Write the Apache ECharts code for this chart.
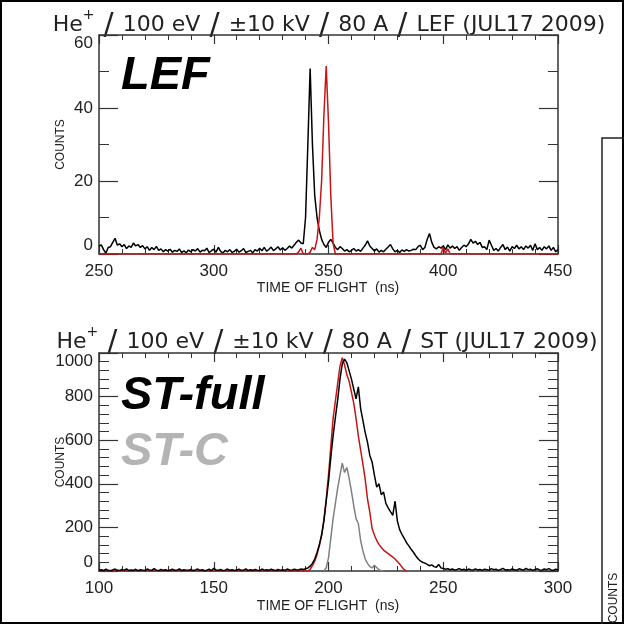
<!DOCTYPE html>
<html><head><meta charset="utf-8">
<script src="https://cdn.jsdelivr.net/npm/echarts@6/dist/echarts.min.js"></script>
<style>html,body{margin:0;padding:0;background:#fff}#c{width:624px;height:624px}</style>
</head><body><div id="c"></div>
<script>
// ---------- DATA ----------
// Top panel (LEF): time of flight axis ticks and counts ticks
const lefXTicks = [250, 300, 350, 400, 450];
const lefYTicks = [0, 20, 40, 60];
// Black LEF curve: one value per ns, starting at 250 ns
const lefBlackStart = 250;
const lefBlack = [
  2.2, 2.5, 1.2, 0.2, 1.8, 2.0, 3.2, 4.3, 2.4, 2.8,
  2.0, 2.6, 1.5, 2.2, 1.8, 3.0, 2.2, 2.6, 1.8, 2.3,
  1.4, 2.0, 1.0, 1.8, 1.2, 2.1, 1.0, 1.4, 0.6, 1.2,
  0.8, 1.3, 0.5, 1.0, 0.7, 1.4, 0.4, 0.9, 0.3, 1.1,
  0.6, 1.2, 0.8, 1.5, 0.5, 1.0, 0.9, 1.6, 0.4, 0.9,
  1.3, 0.5, 1.8, 0.7, 0.3, 1.0, 0.6, 1.2, 0.4, 0.8,
  1.3, 0.5, 0.9, 1.5, 0.4, 0.7, 1.0, 0.3, 1.2, 0.8,
  1.6, 0.9, 1.8, 0.8, 1.2, 1.9, 0.9, 1.4, 2.0, 1.1,
  1.7, 1.0, 1.5, 2.2, 1.6, 2.4, 3.2, 3.8, 3.0, 2.8,
  10, 30, 50.8, 30, 16, 10, 6.5, 4.0, 2.6, 1.8,
  3.2, 4.0, 3.0, 1.8, 1.2, 2.0, 1.5, 0.8, 1.2, 0.6,
  1.0, 1.5, 0.8, 1.2, 0.7, 1.6, 2.4, 3.6, 2.2, 1.5,
  0.8, 1.4, 0.5, 1.0, 0.6, 1.3, 1.9, 2.6, 1.4, 0.6,
  1.0, 0.4, 1.1, 0.7, 1.2, 0.8, 1.0, 1.3, 1.2, 2.0,
  2.4, 1.2, 1.8, 4.0, 5.6, 3.2, 1.8, 1.4, 2.0, 1.6,
  2.2, 1.2, 2.5, 1.6, 2.2, 1.5, 2.0, 1.0, 1.8, 2.4,
  2.0, 2.8, 4.0, 3.0, 3.5, 2.6, 3.2, 1.8, 2.0, 1.2,
  3.8, 2.4, 1.0, 1.5, 0.8, 1.8, 2.6, 1.2, 1.9, 0.8,
  2.0, 1.5, 2.4, 1.4, 2.0, 1.2, 2.2, 1.6, 2.4, 1.0,
  2.8, 1.2, 1.8, 1.0, 2.0, 1.4, 2.2, 1.0, 1.8, 0.6,
  1.2
];
// Red LEF curve (time in ns, counts)
const lefRedNs =     [250, 336, 337, 338, 339, 340, 341, 342, 343, 344, 345, 346, 347, 348, 349,  350, 351, 352, 353, 399, 400, 401, 402, 403, 450];
const lefRedCounts = [0,   0,   0.6, 1.6, 0,   0,   0,   0.5, 1.8, 1.2, 4,   10,  20,  38,  51.5, 36,  16,  3,   0,   0,   1.8, 0.2, 1.4, 0,   0];

// Bottom panel (ST)
const stXTicks = [100, 150, 200, 250, 300];
const stYTicks = [0, 200, 400, 600, 800, 1000];
// ST-full (black): one value per ns, starting at 100 ns
const stFullStart = 100;
const stFull = [
  3, 6, 2, 8, 4, 1, 5, 9, 3, 2,
  7, 4, 10, 2, 5, 3, 8, 1, 6, 4,
  2, 9, 5, 3, 11, 4, 2, 7, 3, 6,
  1, 5, 8, 3, 4, 10, 2, 6, 4, 3,
  7, 2, 5, 9, 3, 6, 1, 4, 8, 2,
  12, 5, 3, 7, 2, 4, 9, 3, 6, 2,
  5, 8, 3, 4, 10, 2, 6, 3, 7, 4,
  2, 9, 4, 6, 3, 8, 5, 2, 7, 4,
  6, 3, 9, 5, 4, 8, 6, 5, 9, 7,
  10, 14, 22, 35, 55, 85, 120, 165, 230, 320,
  410, 520, 620, 705, 785, 880, 950, 972, 955, 918,
  880, 835, 790, 845, 745, 690, 635, 590, 530, 500,
  440, 385, 400, 350, 362, 310, 290, 272, 255, 320,
  230, 190, 168, 150, 130, 115, 100, 86, 70, 56,
  46, 40, 36, 30, 24, 28, 20, 17, 30, 14,
  12, 8, 10, 6, 9, 4, 7, 11, 5, 8,
  3, 9, 6, 4, 10, 5, 7, 3, 8, 6,
  4, 11, 6, 8, 3, 7, 12, 5, 6, 4,
  9, 6, 3, 10, 7, 4, 12, 6, 8, 3,
  7, 10, 5, 4, 9, 6, 11, 5, 3, 8,
  6
];
// Red ST curve
const stRedNs =     [100, 191, 192, 193, 194, 195, 196, 197, 198, 199, 200, 201, 202, 203, 204, 205, 206, 207, 208, 209, 210, 211, 212, 213, 214, 215, 216, 217, 218, 219, 220, 221, 222, 223, 224, 225, 226, 227, 228, 229, 230, 231, 232, 233, 234];
const stRedCounts = [0,   0,   8,   25,  45,  75,  115, 165, 235, 330, 440, 570, 700, 780, 860, 940, 978, 945, 900, 870, 820, 770, 700, 620, 555, 490, 420, 330, 270, 195, 165, 140, 122, 108, 96,  88,  80,  72,  64,  55,  44,  32,  18,  6,   0];
// ST-C (gray)
const stCNs =     [198, 199, 200, 201, 202, 203, 204, 205, 206, 207, 208, 209, 210, 211, 212, 213, 214, 215, 216, 217, 218, 219, 220, 221, 222, 223, 224];
const stCCounts = [0,   15,  60,  150, 240, 310, 380, 440, 495, 452, 475, 425, 365, 300, 240, 218, 140, 92,  55,  35,  20,  14,  26,  16,  6,   0,   0];

// Texts
const titleTop = ['He', '^+', '/', '100', 'eV', '/', '\u00b110', 'kV', '/', '80', 'A', '/', 'LEF', '(JUL17', '2009)'];
const titleBot = ['He', '^+', '/', '100', 'eV', '/', '\u00b110', 'kV', '/', '80', 'A', '/', 'ST', '(JUL17', '2009)'];
const xName = 'TIME OF FLIGHT  (ns)';
const yName = 'COUNTS';

// ---------- BUILD ----------
const pairsFromStart = (start, vals) => vals.map((v, i) => [start + i, v]);
const zip = (xs, ys) => xs.map((x, i) => [x, ys[i]]);

const AX = '#333';
const LBL = {fontSize: 17, fontFamily: 'Liberation Sans, Arial, sans-serif', color: '#222'};

function xAx(gi, ticks, pos) {
  return {
    gridIndex: gi, type: 'value', position: pos,
    min: ticks[0], max: ticks[ticks.length - 1], interval: ticks[1] - ticks[0],
    axisLine: {onZero: false, lineStyle: {color: AX, width: 1.5}},
    axisTick: {inside: true, length: 9, lineStyle: {color: AX, width: 1.2}},
    minorTick: {show: true, splitNumber: 5, length: 5, lineStyle: {color: AX, width: 1}},
    splitLine: {show: false},
    axisLabel: pos === 'bottom' ? Object.assign({show: true, margin: 9, formatter: v => String(v)}, LBL) : {show: false}
  };
}
function yAx(gi, ticks, pos, minorSplit) {
  return {
    gridIndex: gi, type: 'value', position: pos,
    min: ticks[0], max: ticks[ticks.length - 1], interval: ticks[1] - ticks[0],
    axisLine: {onZero: false, lineStyle: {color: AX, width: 1.5}},
    axisTick: {inside: true, length: 19, lineStyle: {color: AX, width: 1.2}},
    minorTick: {show: true, splitNumber: minorSplit, length: 10, lineStyle: {color: AX, width: 1}},
    splitLine: {show: false},
    axisLabel: pos === 'left' ? Object.assign({show: true, margin: 6, formatter: v => String(v),
      verticalAlignMinLabel: 'bottom', verticalAlignMaxLabel: 'top'}, LBL) : {show: false}
  };
}
function line(xi, yi, data, color, z) {
  return {type: 'line', xAxisIndex: xi, yAxisIndex: yi, data: data, symbol: 'none',
    showSymbol: false, lineStyle: {color: color, width: 1.5}, z: z, silent: true};
}

const graphics = [];
const mctx = document.createElement('canvas').getContext('2d');
const FN = '22px "DejaVu Sans"', FS = '30px "DejaVu Sans"', FP = '14px "DejaVu Sans"';
function measure(t, f) { mctx.font = f; return mctx.measureText(t).width; }
function titleRow(tokens, centerX, midY) {
  const space = measure(' ', FN);
  const items = tokens.map((t, i) => {
    const sup = t.startsWith('^');
    const txt = sup ? t.slice(1) : t;
    const font = sup ? FP : (t === '/' ? FS : FN);
    const nearSlash = t === '/' || tokens[i - 1] === '/';
    const gap = (i === 0 || sup) ? 0 : space * (nearSlash ? 1.3 : 1.0);
    return {txt, font, sup, slash: t === '/', gap, w: measure(txt, font)};
  });
  const total = items.reduce((s, it) => s + it.gap + it.w, 0);
  let x = centerX - total / 2;
  items.forEach(it => {
    x += it.gap;
    let y = midY;
    if (it.slash) y = midY + 1;
    if (it.sup) y = midY - 10;
    graphics.push({type: 'text', x: x, y: y, silent: true,
      style: {text: it.txt, font: it.font, fill: '#222', textAlign: 'left', textVerticalAlign: 'middle'}});
    x += it.w;
  });
}
titleRow(titleTop, 329, 25);
titleRow(titleBot, 327, 342);

[[288], [606]].forEach(([y]) => graphics.push({type: 'text', x: 328, y: y, silent: true,
  style: {text: xName, font: '14px "Liberation Sans"', fill: '#222', textAlign: 'center', textVerticalAlign: 'middle'}}));
[[144.5], [462]].forEach(([y]) => graphics.push({type: 'text', x: 61, y: y, rotation: Math.PI / 2, silent: true,
  style: {text: yName, font: '12px "Liberation Sans"', fill: '#222', textAlign: 'center', textVerticalAlign: 'middle'}}));

graphics.push({type: 'text', x: 121, y: 76, silent: true,
  style: {text: 'LEF', font: 'italic bold 47px "Liberation Sans"', fill: '#000', textAlign: 'left', textVerticalAlign: 'middle'}});
graphics.push({type: 'text', x: 121, y: 396, silent: true,
  style: {text: 'ST-full', font: 'italic bold 47px "Liberation Sans"', fill: '#000', textAlign: 'left', textVerticalAlign: 'middle'}});
graphics.push({type: 'text', x: 121, y: 452, silent: true,
  style: {text: 'ST-C', font: 'italic bold 47px "Liberation Sans"', fill: '#b4b4b4', textAlign: 'left', textVerticalAlign: 'middle'}});

// frame and neighbouring panel edge
graphics.push({type: 'rect', silent: true, shape: {x: 1, y: 1, width: 622, height: 622},
  style: {fill: 'none', stroke: '#000', lineWidth: 2}});
graphics.push({type: 'polyline', silent: true, shape: {points: [[640, 138], [602, 138], [602, 640]]},
  style: {fill: 'none', stroke: '#222', lineWidth: 1.5}});
graphics.push({type: 'text', x: 614, y: 598, rotation: Math.PI / 2, silent: true,
  style: {text: yName, font: '12px "Liberation Sans"', fill: '#222', textAlign: 'center', textVerticalAlign: 'middle'}});

const chart = echarts.init(document.getElementById('c'));
chart.setOption({
  animation: false,
  backgroundColor: '#fff',
  grid: [
    {left: 99, top: 35, width: 459, height: 219},
    {left: 99, top: 353, width: 459, height: 218}
  ],
  xAxis: [xAx(0, lefXTicks, 'bottom'), xAx(0, lefXTicks, 'top'), xAx(1, stXTicks, 'bottom'), xAx(1, stXTicks, 'top')],
  yAxis: [yAx(0, lefYTicks, 'left', 2), yAx(0, lefYTicks, 'right', 2), yAx(1, stYTicks, 'left', 5), yAx(1, stYTicks, 'right', 5)],
  series: [
    line(0, 0, pairsFromStart(lefBlackStart, lefBlack), '#000', 2),
    line(0, 0, zip(lefRedNs, lefRedCounts), '#c81414', 3),
    line(2, 2, zip(stRedNs, stRedCounts), '#c81414', 2),
    line(2, 2, zip(stCNs, stCCounts), '#808080', 3),
    line(2, 2, pairsFromStart(stFullStart, stFull), '#000', 4)
  ],
  graphic: graphics
});
</script></body></html>
